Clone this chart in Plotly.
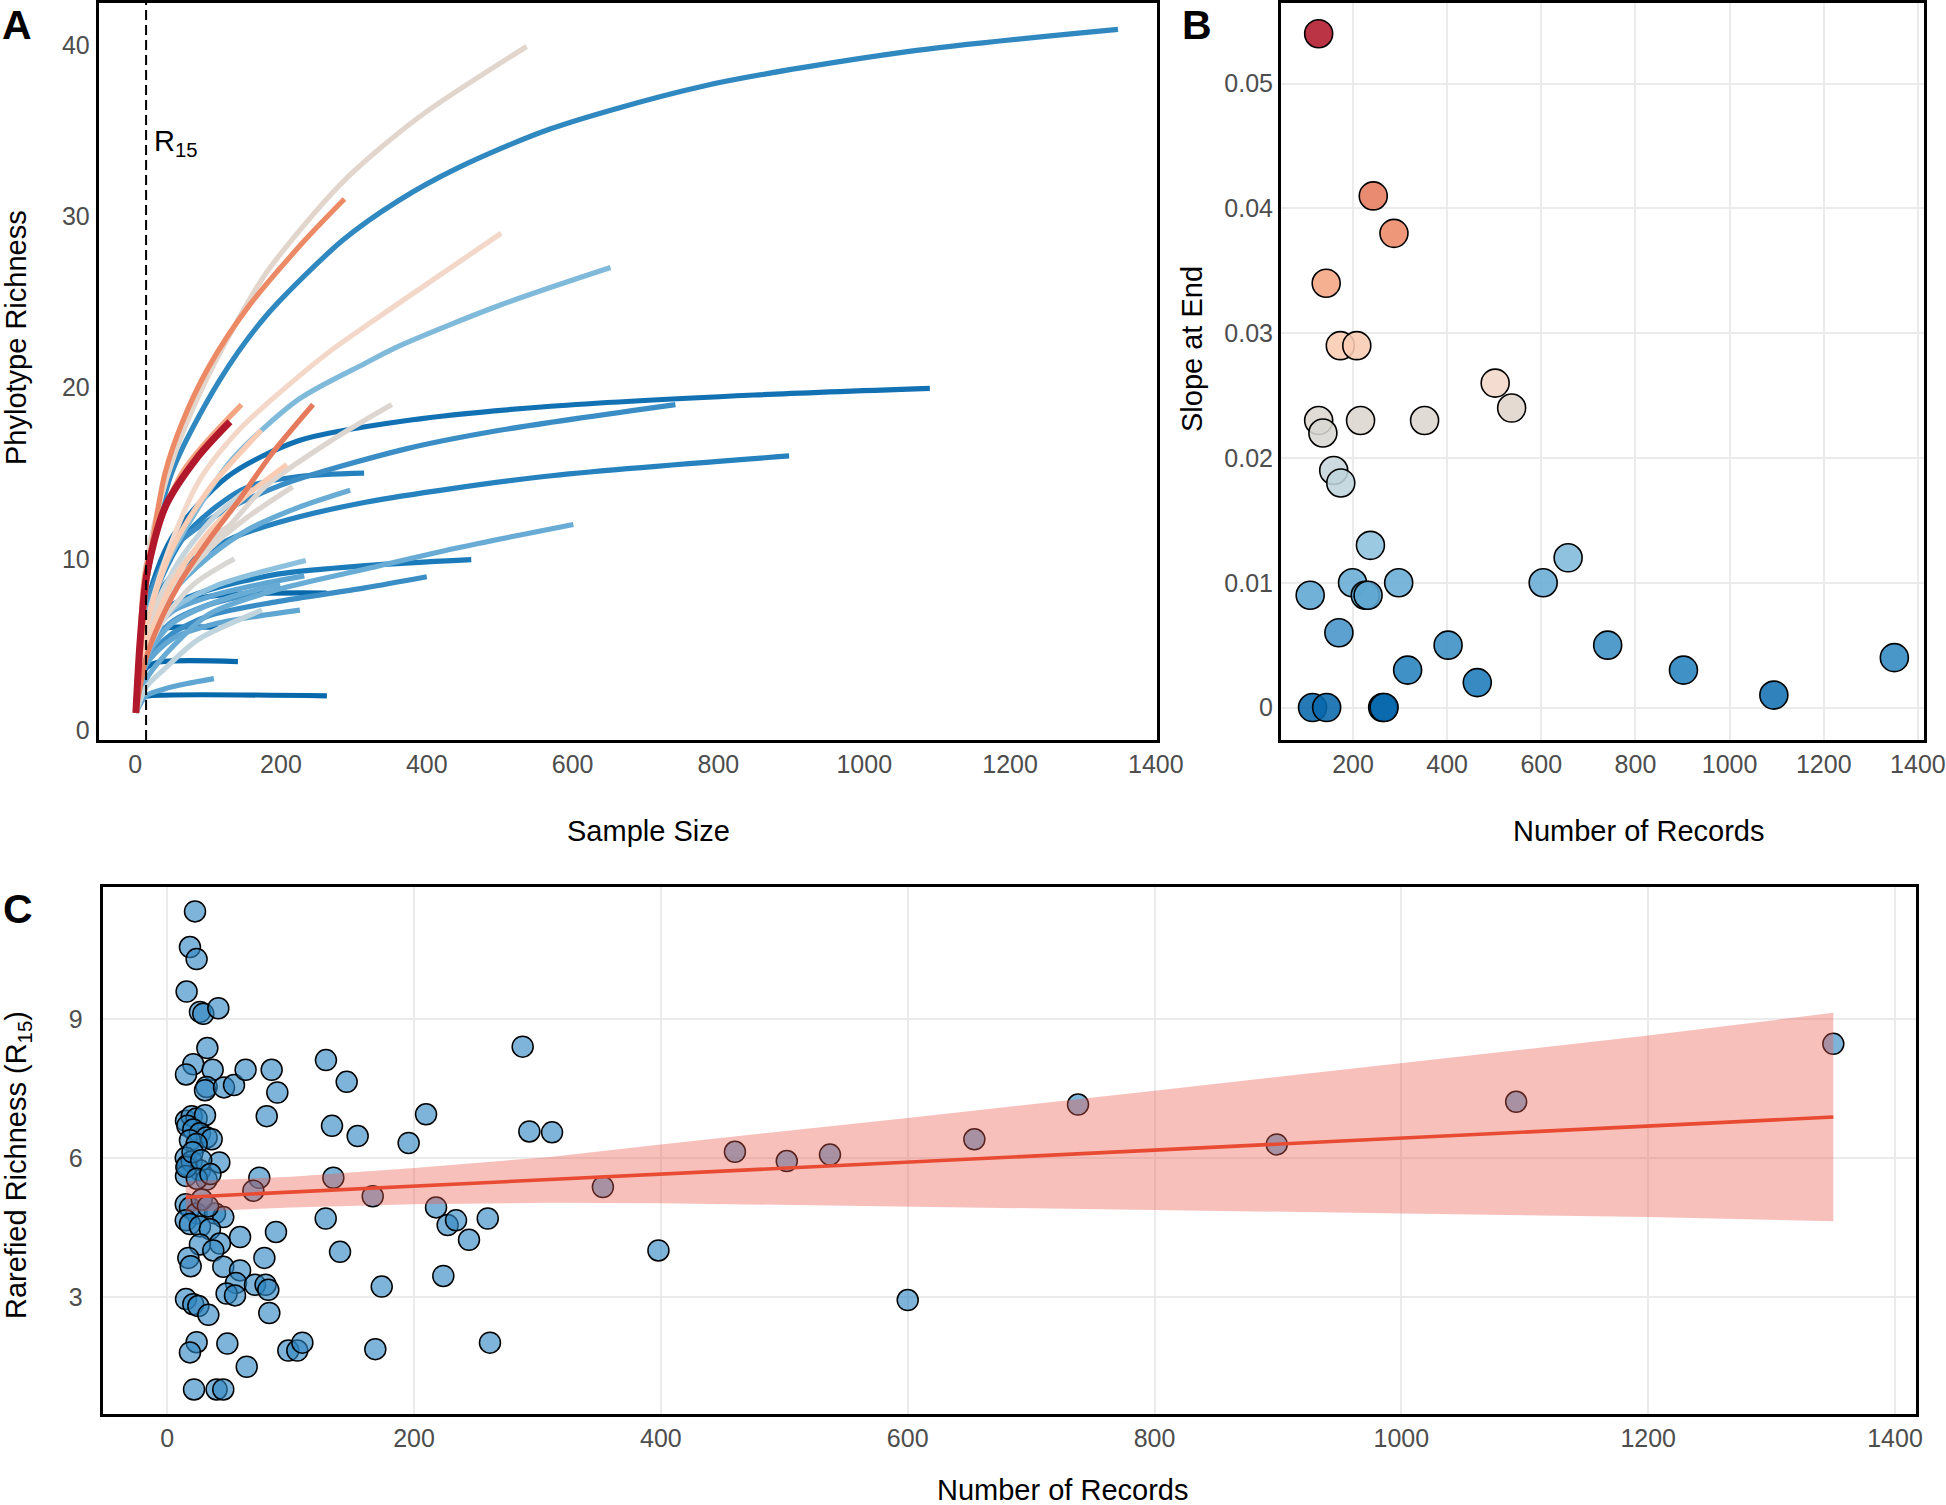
import plotly.graph_objects as go
from plotly.colors import sample_colorscale

W, H = 1946, 1505

# ---------------- Panel A: rarefaction curves ----------------
curve_x = [
    [1, 15, 50, 117, 180, 285, 361, 442, 570, 780, 1059, 1348],
    [1, 15, 32, 55, 87, 130, 180, 285, 390, 537],
    [1, 15, 28, 41, 64, 101, 155, 233, 287],
    [1, 15, 40, 87, 142, 201, 270, 361, 502],
    [1, 15, 41, 87, 133, 224, 315, 361, 500, 652],
    [1, 15, 50, 127, 225, 378, 570, 849, 1090],
    [1, 15, 50, 110, 200, 370, 500, 741],
    [1, 15, 50, 128, 195, 316, 561, 897],
    [1, 15, 50, 103, 195, 316, 438, 601],
    [1, 15, 50, 103, 195, 316, 461],
    [1, 15, 50, 103, 195, 315, 400],
    [1, 15, 64, 110, 155, 224, 314],
    [1, 15, 50, 87, 133, 178, 269, 352],
    [1, 15, 37, 64, 101, 142, 187, 244],
    [1, 7, 16, 41, 87, 130],
    [1, 7, 15, 64, 146],
    [1, 15, 50, 101, 155, 224, 295],
    [1, 5, 12, 20, 263],
    [1, 8, 15, 30, 141],
    [1, 15, 50, 100, 170, 263],
    [1, 15, 50, 100, 168],
    [1, 15, 50, 110, 226],
    [1, 15, 50, 110, 170, 234],
    [1, 15, 50, 110, 170, 232],
    [1, 15, 50, 100, 150, 199],
    [1, 15, 40, 70, 108],
    [1, 10, 20, 40, 114],
    [1, 15, 32, 64, 110, 159],
    [1, 15, 41, 87, 174],
    [1, 15, 40, 80, 132],
    [1, 15, 40, 80, 136],
    [1, 15, 50, 100, 173],
    [1, 15, 50, 100, 150, 208],
    [1, 15, 50, 100, 150, 216],
]
curve_y = [
    [1, 8.5, 15.0, 20.5, 24.2, 28.6, 30.9, 32.8, 35.1, 37.6, 39.6, 40.9],
    [1, 9.6, 13.0, 16.2, 19.5, 23.1, 26.7, 32.0, 35.8, 39.9],
    [1, 8.3, 12.1, 15.0, 17.9, 21.2, 24.7, 28.6, 31.0],
    [1, 5.9, 9.8, 14.5, 17.5, 19.8, 22.2, 24.9, 29.0],
    [1, 6.4, 9.5, 13.0, 15.8, 19.3, 21.4, 22.4, 24.8, 27.0],
    [1, 7.2, 11.2, 14.8, 16.9, 18.1, 18.9, 19.56, 19.95],
    [1, 7.15, 10.5, 12.5, 14.3, 16.4, 17.5, 19.0],
    [1, 6.3, 9.0, 11.1, 12.1, 13.3, 14.8, 16.0],
    [1, 2.93, 4.8, 6.8, 8.2, 9.4, 10.6, 12.0],
    [1, 6.1, 7.3, 8.2, 9.1, 9.6, 9.95],
    [1, 4.0, 5.6, 6.7, 7.5, 8.3, 8.95],
    [1, 6.5, 11.1, 13.0, 14.2, 14.8, 15.0],
    [1, 5.4, 8.3, 10.1, 12.1, 14.2, 16.9, 19.0],
    [1, 4.2, 6.6, 8.8, 11.1, 13.4, 16.1, 19.0],
    [1, 5.3, 9.1, 13.0, 16.0, 18.0],
    [1, 5.5, 9.5, 15.0, 19.0],
    [1, 5.5, 8.0, 10.1, 11.7, 13.0, 14.0],
    [1, 1.6, 1.9, 2.0, 2.0],
    [1, 2.8, 3.6, 3.95, 4.0],
    [1, 5.5, 7.2, 7.8, 7.98, 8.0],
    [1, 4.5, 6.3, 7.3, 8.0],
    [1, 3.8, 5.3, 6.2, 7.0],
    [1, 4.8, 7.0, 8.4, 9.2, 9.9],
    [1, 5.0, 6.9, 7.9, 8.5, 9.0],
    [1, 4.2, 6.2, 7.3, 8.0, 8.5],
    [1, 2.0, 2.4, 2.7, 3.0],
    [1, 4.6, 5.6, 5.95, 6.0],
    [1, 5.0, 7.6, 10.1, 12.5, 14.2],
    [1, 2.5, 3.6, 5.3, 7.0],
    [1, 5.5, 8.2, 10.4, 12.0],
    [1, 4.3, 6.5, 8.5, 10.0],
    [1, 6.0, 10.5, 14.0, 17.5],
    [1, 4.8, 8.5, 11.5, 13.6, 15.5],
    [1, 5.0, 8.0, 10.5, 12.3, 14.2],
]
curve_slope = [0.004, 0.024, 0.038, 0.026, 0.012, 0.001, 0.005, 0.003, 0.010, 0.002,
               0.005, 0.003, 0.023, 0.041, 0.054, 0.034, 0.010, 0.0, 0.0, 0.0,
               0.006, 0.009, 0.013, 0.009, 0.010, 0.009, 0.0, 0.019, 0.018, 0.023,
               0.022, 0.029, 0.029, 0.023]
r15_line = 15
a_xticks = [0, 200, 400, 600, 800, 1000, 1200, 1400]
a_yticks = [0, 10, 20, 30, 40]

# ---------------- Panel B: slope at end ----------------
b_records = [127, 243, 287, 143, 173, 208, 502, 537, 127, 216, 352, 136, 159, 174, 237,
             657, 109, 199, 226, 232, 297, 604, 170, 402, 741, 316, 902, 464, 1094, 1350,
             114, 144, 263, 266]
b_slope = [0.054, 0.041, 0.038, 0.034, 0.029, 0.029, 0.026, 0.024, 0.023, 0.023, 0.023,
           0.022, 0.019, 0.018, 0.013, 0.012, 0.009, 0.010, 0.009, 0.009, 0.010, 0.010,
           0.006, 0.005, 0.005, 0.003, 0.003, 0.002, 0.001, 0.004, 0.0, 0.0, 0.0, 0.0]
b_xticks = [200, 400, 600, 800, 1000, 1200, 1400]
b_yticks = [0, 0.01, 0.02, 0.03, 0.04, 0.05]
b_yticktext = ["0", "0.01", "0.02", "0.03", "0.04", "0.05"]

# ---------------- Panel C: rarefied richness ----------------
c_records = [22.5, 18.4, 23.8, 15.7, 26.5, 29.2, 41.4, 32.5, 21.1, 15.2, 36.8, 31.9, 30.6,
             46.0, 54.1, 63.5, 84.6, 89.2, 80.6, 128.6, 145.4, 133.5, 154.3, 195.6, 209.7,
             288.0, 293.4, 311.8,
             15.2, 19.8, 23.8, 30.6, 16.3, 21.1, 26.5, 31.9, 36.0, 18.4, 23.8,
             15.0, 16.3, 19.8, 26.5, 15.2, 15.5, 31.9, 42.2, 20.5, 27.5, 24.0, 35.0,
             74.6, 69.8, 134.6, 166.5, 353.0,
             15.0, 18.4, 23.8, 38.7, 45.4, 28.0, 33.0,
             15.0, 18.4, 26.5, 34.6, 42.7, 26.5, 37.3, 59.0, 88.1,
             128.4, 217.8, 227.2, 234.0, 244.5, 259.7, 140.0, 78.7, 17.1, 19.0, 45.4, 59.0,
             55.7, 71.1, 79.7, 81.9, 48.1, 54.9, 173.8, 223.7,
             15.2, 21.1, 25.2, 33.3, 82.7, 23.8, 18.4, 48.7, 64.4, 98.1, 105.4, 109.5,
             168.6, 261.5, 21.7, 40.0, 45.4,
             398, 460, 502, 537, 600, 654, 738, 899, 1093, 1350]
c_richness = [11.32, 10.55, 10.29, 9.59, 9.15, 9.11, 9.23, 8.37, 8.02, 7.80, 7.90, 7.53, 7.46,
              7.52, 7.57, 7.90, 7.90, 7.41, 6.90, 8.11, 7.64, 6.69, 6.47, 6.32, 6.94,
              8.40, 6.57, 6.55,
              6.80, 6.90, 6.85, 6.92, 6.69, 6.61, 6.53, 6.44, 6.40, 6.38, 6.30,
              6.00, 5.84, 5.92, 5.73, 5.61, 5.80, 5.53, 5.90, 6.12, 5.95, 5.55, 5.65,
              5.57, 5.29, 5.57, 5.17, 5.37,
              5.00, 4.92, 4.80, 4.80, 4.72, 5.10, 4.95,
              4.65, 4.57, 4.52, 4.46, 4.15, 4.13, 4.00, 4.29, 4.40,
              4.69, 4.93, 4.55, 4.65, 4.23, 4.69, 3.97, 3.84, 3.84, 3.66, 3.65, 3.57,
              3.30, 3.26, 3.26, 3.15, 3.07, 3.03, 3.22, 3.45,
              2.95, 2.84, 2.80, 2.61, 2.65, 2.02, 1.80, 1.99, 1.49, 1.84, 1.84, 2.01,
              1.87, 2.01, 1.00, 1.00, 1.00,
              4.00, 6.13, 5.93, 6.07, 2.93, 6.40, 7.15, 6.29, 7.21, 8.46]
# fitted linear trend and its 95% band
fit_x = [15, 100, 200, 310, 400, 600, 800, 1000, 1200, 1350]
fit_y = [5.15, 5.26, 5.39, 5.52, 5.65, 5.90, 6.16, 6.42, 6.68, 6.88]
fit_lo = [4.83, 4.93, 5.00, 5.03, 5.02, 4.95, 4.87, 4.80, 4.72, 4.63]
fit_hi = [5.50, 5.59, 5.78, 6.02, 6.29, 6.86, 7.45, 8.04, 8.64, 9.13]
c_xticks = [0, 200, 400, 600, 800, 1000, 1200, 1400]
c_yticks = [3, 6, 9]

# ---------------- styling helpers ----------------
SLOPE_MAX = 0.054
cscale = [
    [0.0, '#0868ac'], [0.05, '#2280bd'], [0.12, '#4a97ca'], [0.19, '#6aaed6'],
    [0.25, '#93c5df'], [0.34, '#c2d5dd'], [0.41, '#d9d7d3'], [0.45, '#e2d5cb'],
    [0.49, '#f7d9c8'], [0.54, '#f9cbb2'], [0.63, '#f4a582'], [0.70, '#ec8b67'],
    [0.77, '#e4785a'], [1.0, '#b2182b'],
]


def slope_color(s, alpha=None):
    c = sample_colorscale(cscale, [min(max(s / SLOPE_MAX, 0), 1)])[0]
    if alpha is None:
        return c
    return c.replace('rgb(', 'rgba(').replace(')', ', %g)' % alpha)


def px(x):
    return x / W


def py(y):
    return 1 - y / H


FONT = 'Liberation Sans, Arial, Helvetica, sans-serif'
TICKFONT = dict(family=FONT, size=25, color='#4d4d4d')

fig = go.Figure()

# Panel A lines, drawn from low slope to high slope
order = sorted(range(len(curve_x)), key=lambda i: curve_slope[i])
for i in order:
    s = curve_slope[i]
    fig.add_trace(go.Scatter(
        x=curve_x[i], y=curve_y[i], mode='lines',
        line=dict(color=slope_color(s), width=7 if s == max(curve_slope) else 5.2,
                  shape='spline', smoothing=0.8),
        xaxis='x', yaxis='y', hoverinfo='skip'))

# Panel B points
fig.add_trace(go.Scatter(
    x=b_records, y=b_slope, mode='markers',
    marker=dict(size=28, color=[slope_color(s, 0.88) for s in b_slope],
                line=dict(color='black', width=1.6)),
    xaxis='x2', yaxis='y2'))

# Panel C points, then band, then line
fig.add_trace(go.Scatter(
    x=c_records, y=c_richness, mode='markers',
    marker=dict(size=21, color='rgba(46,134,193,0.62)',
                line=dict(color='black', width=1.5)),
    xaxis='x3', yaxis='y3'))
fig.add_trace(go.Scatter(x=fit_x, y=fit_lo, mode='lines', line=dict(width=0, color='rgba(0,0,0,0)'),
                         xaxis='x3', yaxis='y3', hoverinfo='skip'))
fig.add_trace(go.Scatter(x=fit_x, y=fit_hi, mode='lines', line=dict(width=0, color='rgba(0,0,0,0)'),
                         fill='tonexty', fillcolor='rgba(235,90,75,0.38)',
                         xaxis='x3', yaxis='y3', hoverinfo='skip'))
fig.add_trace(go.Scatter(x=fit_x, y=fit_y, mode='lines', line=dict(color='#e84a32', width=3.6),
                         xaxis='x3', yaxis='y3', hoverinfo='skip'))

axis_common = dict(showline=True, linecolor='black', linewidth=3, mirror=True,
                   zeroline=False, ticks='outside', tickcolor='rgba(0,0,0,0)',
                   tickfont=TICKFONT, gridcolor='#ebebeb', gridwidth=1.5,
                   automargin=False, fixedrange=True)

fig.update_layout(
    width=W, height=H, margin=dict(l=0, r=0, t=0, b=0),
    paper_bgcolor='white', plot_bgcolor='white', showlegend=False,
    template='none',
    xaxis=dict(axis_common, domain=[px(98.7), px(1156.6)], anchor='y',
               range=[-50, 1401], tickvals=a_xticks, showgrid=False, ticklen=0),
    yaxis=dict(axis_common, domain=[py(740), py(2.5)], anchor='x',
               range=[-0.58, 42.47], tickvals=a_yticks, showgrid=False, ticklen=1),
    xaxis2=dict(axis_common, domain=[px(1281), px(1924)], anchor='y2',
                range=[47, 1413], tickvals=b_xticks, showgrid=True, ticklen=0),
    yaxis2=dict(axis_common, domain=[py(740), py(2.5)], anchor='x2',
                range=[-0.0026, 0.0565], tickvals=b_yticks, ticktext=b_yticktext,
                showgrid=True, ticklen=0),
    xaxis3=dict(axis_common, domain=[px(102.7), px(1916)], anchor='y3',
                range=[-52.3, 1417], tickvals=c_xticks, showgrid=True, ticklen=0),
    yaxis3=dict(axis_common, domain=[py(1414), py(887.3)], anchor='x3',
                range=[0.47, 11.84], tickvals=c_yticks, showgrid=True, ticklen=12),
)

fig.add_shape(type='line', xref='x', yref='y domain', x0=r15_line, x1=r15_line, y0=0, y1=1,
              line=dict(color='black', width=2, dash='10px,5px'), layer='above')


def ann(text, x, y, size, xanchor='center', angle=0, bold=False, color='black'):
    fig.add_annotation(
        text='<b>%s</b>' % text if bold else text,
        x=px(x), y=py(y), xref='paper', yref='paper',
        xanchor=xanchor, yanchor='middle',
        showarrow=False, textangle=angle,
        font=dict(family=FONT, size=size, color=color))


ann('A', 0, 25, 41, xanchor='left', bold=True)
ann('B', 1180, 25, 41, xanchor='left', bold=True)
ann('C', 1, 909, 41, xanchor='left', bold=True)
ann('Phylotype Richness', 16, 338, 29, angle=-90)
ann('Sample Size', 648, 831, 29)
ann('Slope at End', 1192, 349, 29, angle=-90)
ann('Number of Records', 1638, 831, 29)
ann('Rarefied Richness (R<sub>15</sub>)', 18, 1165, 29, angle=-90)
ann('Number of Records', 1062, 1490, 29)
ann('R<sub>15</sub>', 152, 143, 29, xanchor='left')

fig.write_html('out.html', config={'displayModeBar': False},
               post_script="document.body.style.margin='0px';document.body.style.padding='0px';")
